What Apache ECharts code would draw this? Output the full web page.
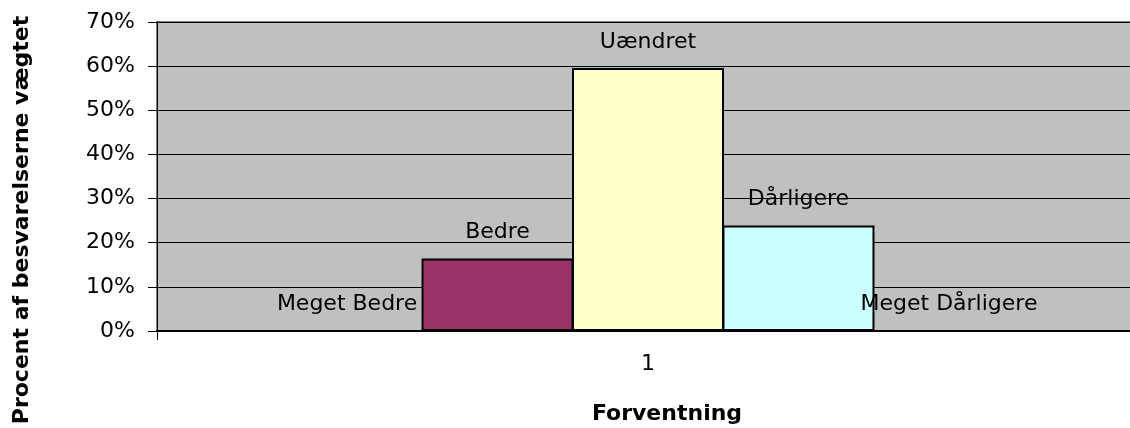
<!DOCTYPE html>
<html>
<head>
<meta charset="utf-8">
<script src="https://cdn.jsdelivr.net/npm/echarts@6/dist/echarts.min.js"></script>
<style>
  html, body { margin: 0; padding: 0; background: #fff; }
  #chart { width: 1130px; height: 428px; }
</style>
</head>
<body>
<div id="chart"></div>
<script>
// data
var categories = ['1'];
var seriesNames = ['Meget Bedre', 'Bedre', 'Uændret', 'Dårligere', 'Meget Dårligere'];
var seriesValues = [0, 16.4, 59.6, 23.9, 0];
var seriesColors = ['#9999FF', '#993366', '#FFFFCC', '#CCFFFF', '#660066'];

var myChart = echarts.init(document.getElementById('chart'));

var font = 'DejaVu Sans, Liberation Sans, sans-serif';

var series = seriesNames.map(function (name, i) {
    return {
        name: name,
        type: 'bar',
        data: [seriesValues[i]],
        barWidth: 152,
        barGap: '-1%',
        itemStyle: {
            color: seriesColors[i],
            borderColor: seriesValues[i] > 0 ? '#000' : 'transparent',
            borderWidth: 2
        },
        label: {
            show: true,
            position: 'top',
            distance: 15,
            formatter: '{a}',
            color: '#000',
            fontFamily: font,
            fontSize: 22
        }
    };
});

var option = {
    animation: false,
    grid: {
        left: 157,
        top: 22,
        width: 982,
        height: 309,
        outerBoundsMode: 'none',
        show: true,
        backgroundColor: '#C0C0C0',
        borderColor: '#808080',
        borderWidth: 2
    },
    // y axis title sits centred on the whole picture height, not the axis
    graphic: [{
        type: 'text',
        x: 22,
        y: 220,
        rotation: Math.PI / 2,
        style: {
            text: 'Procent af besvarelserne vægtet',
            fontFamily: font,
            fontSize: 22,
            fontWeight: 'bold',
            fill: '#000',
            align: 'center',
            verticalAlign: 'middle'
        }
    }],
    xAxis: {
        type: 'category',
        data: categories,
        name: 'Forventning',
        nameLocation: 'middle',
        nameGap: 72,
        nameTextStyle: { fontFamily: font, fontSize: 22, fontWeight: 'bold', color: '#000', padding: [0, 0, 0, 38] },
        axisLine: { lineStyle: { color: '#000', width: 2 } },
        axisTick: { show: true, length: 9, lineStyle: { color: '#000' } },
        axisLabel: { margin: 22, fontFamily: font, fontSize: 22, color: '#000' }
    },
    yAxis: {
        type: 'value',
        min: 0,
        max: 70,
        interval: 10,
        axisLine: { show: true, lineStyle: { color: '#000', width: 1 } },
        axisTick: { show: true, length: 9, lineStyle: { color: '#000' } },
        axisLabel: { margin: 22, formatter: '{value}%', fontFamily: font, fontSize: 22, color: '#000' },
        splitLine: { show: true, lineStyle: { color: '#000', width: 1 } }
    },
    series: series
};

myChart.setOption(option);
</script>
</body>
</html>
